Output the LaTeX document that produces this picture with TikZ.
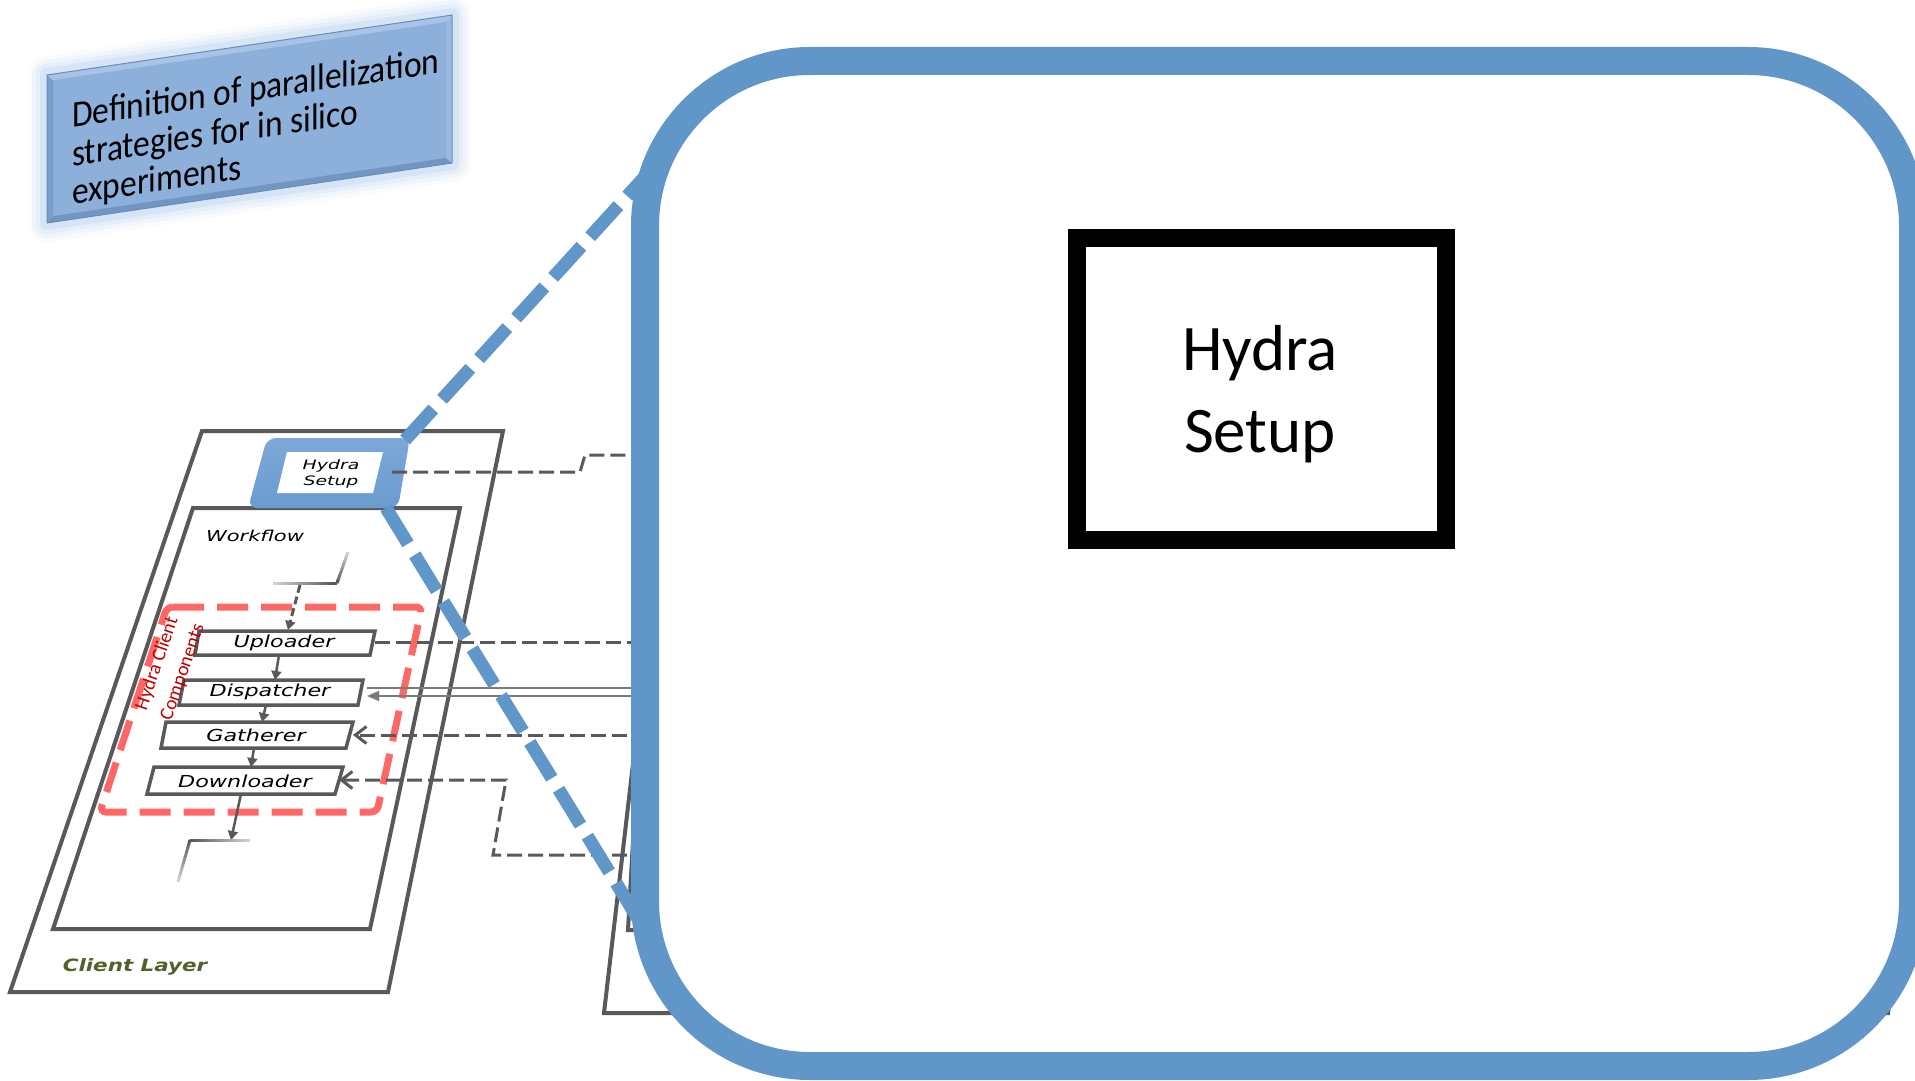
\documentclass[tikz,border=0pt]{standalone}
\usepackage{fontspec}
\usepackage{graphicx}
\setmainfont{Carlito}
\newfontfamily\labfont{DejaVu Sans}[BoldFont={DejaVu Sans Bold},ItalicFont={DejaVu Sans Oblique},BoldItalicFont={DejaVu Sans Bold Oblique}]
\usetikzlibrary{arrows.meta,calc}

\definecolor{frameblue}{HTML}{6196C9}
\definecolor{hstop}{HTML}{7CA8D8}
\definecolor{hsbottom}{HTML}{6B9BCF}
\definecolor{linegray}{HTML}{595959}
\definecolor{thingray}{HTML}{7A7A7A}
\definecolor{fadetint}{HTML}{EEF2FA}
\definecolor{compred}{HTML}{FF6666}
\definecolor{comptext}{HTML}{C00000}
\definecolor{layergreen}{HTML}{4F6228}
\definecolor{defblue}{HTML}{8DB0DA}
\definecolor{defdark}{HTML}{7395C3}
\definecolor{deflight}{HTML}{A6C3E8}
\definecolor{defedge}{HTML}{6A8DBB}
\definecolor{defglow}{HTML}{9CC3EC}

% horizontally widened label text
\newcommand{\stretchtext}[2]{\scalebox{#1}[1]{#2}}
% taller title text
\newcommand{\tallline}[1]{\scalebox{1}[1.12]{#1}}
% line that fades out from #1 (dark) towards #2 (light)
\newcommand{\fadeline}[2]{%
  \foreach \k [evaluate=\k as \ta using \k/14,
               evaluate=\k as \tb using (\k+1)/14,
               evaluate=\k as \pc using int(100-6*\k)] in {0,...,13}{%
    \draw[line width=3pt, color=linegray!\pc!fadetint]
      ($(#1)!\ta!(#2)$) -- ($(#1)!\tb!(#2)$);
  }%
  \draw[line width=3pt, linegray] ($(#1)!3pt!(#2)$) -- (#1);
}

\tikzset{
  layerline/.style={draw=linegray, line width=4pt},
  wfbox/.style={draw=linegray, line width=3.5pt, fill=white},
  wflabel/.style={font=\labfont\itshape\fontsize{16.5}{19}\selectfont, inner sep=0pt},
  flowarrow/.style={draw=linegray, line width=2.5pt, -{Triangle[length=9pt,width=10pt]}},
  linkdash/.style={draw=linegray, line width=3pt, dash pattern=on 15pt off 6pt},
  linkthin/.style={draw=thingray, line width=1.5pt},
  barbtip/.style={-{Straight Barb[length=11pt,width=17pt,line width=3pt]}},
  zoomdash/.style={draw=frameblue, line width=13pt, dash pattern=on 42pt off 13pt},
  compbox/.style={draw=compred, line width=7pt, dash pattern=on 31pt off 13pt, rounded corners=6pt},
}

\begin{document}
\begin{tikzpicture}[x=1pt,y=-1pt]
\useasboundingbox (0,0) rectangle (1915,1081);
\fill[white] (0,0) rectangle (1915,1081);

% ---------- bevelled title plate ----------
\begin{scope}[shift={(47,223)}, yslant=0.148]
  \foreach \w/\o in {38/0.06,30/0.09,22/0.13,14/0.2}
    \draw[defglow, line width=\w pt, opacity=\o, line join=round] (0,0) rectangle (405,-148);
  \fill[defblue] (0,0) rectangle (405,-148);
  \fill[defdark] (0,0) -- (405,0) -- (399,-6) -- (6,-6) -- cycle;
  \fill[defdark!70!defblue] (0,0) -- (6,-6) -- (6,-142) -- (0,-148) -- cycle;
  \fill[deflight] (0,-148) -- (405,-148) -- (399,-142) -- (6,-142) -- cycle;
  \fill[deflight!50!defblue] (405,0) -- (405,-148) -- (399,-142) -- (399,-6) -- cycle;
  \draw[defedge, line width=1pt] (0,0) rectangle (405,-148);
  \begin{scope}[every node/.style={anchor=base west, inner sep=0pt, transform shape,
      font=\fontsize{33.5}{36}\selectfont}]
    \node (defa) at (25,-92) {\tallline{Definition of parallelization}};
    \node (defb) at (25,-53) {\tallline{strategies for in silico}};
    \node (defc) at (25,-15) {\tallline{experiments}};
  \end{scope}
\end{scope}

% ---------- client layer ----------
\draw[layerline] (202,431) -- (503,431) -- (388,992) -- (10,992) -- cycle;
\draw[layerline] (193,508) -- (460,508) -- (370,929) -- (53,929) -- cycle;
\node[font=\labfont\itshape\fontsize{15}{18}\selectfont, inner sep=0pt] (wf) at (255,536)
  {\stretchtext{1.4}{Workflow}};
\node[font=\labfont\bfseries\itshape\fontsize{17}{20}\selectfont, text=layergreen, inner sep=0pt]
  (cl) at (135,967) {\stretchtext{1.26}{Client Layer}};

% client components group
\draw[compbox] (167,607) -- (422,607) -- (377,812) -- (100,812) -- cycle;

% workflow steps
\draw[wfbox] (199,631) -- (375,631) -- (370,655) -- (195,655) -- cycle;
\draw[wfbox] (184,680) -- (363,680) -- (358,705) -- (179,705) -- cycle;
\draw[wfbox] (166,722) -- (353,722) -- (346,748) -- (161,748) -- cycle;
\draw[wfbox] (154,767) -- (343,767) -- (335,794) -- (147,794) -- cycle;
\node[wflabel] (upl) at (284,643) {\stretchtext{1.35}{Uploader}};
\node[wflabel] (dis) at (270,692) {\stretchtext{1.35}{Dispatcher}};
\node[wflabel] (gat) at (256,735) {\stretchtext{1.35}{Gatherer}};
\node[wflabel] (dow) at (245,781) {\stretchtext{1.35}{Downloader}};

\node[rotate=71, align=center, font=\fontsize{19.5}{27}\selectfont, text=comptext, inner sep=0pt]
  (cctext) at (170,668) {Hydra Client\\Components};

% flow between steps
\coordinate (uplB) at (279,655);  \coordinate (disT) at (275,680);
\coordinate (disB) at (266,705);  \coordinate (gatT) at (262,722);
\coordinate (gatB) at (254,748);  \coordinate (dowT) at (251,767);
\coordinate (dowB) at (241,794);  \coordinate (wfoutE2) at (231,840);
\draw[flowarrow] (uplB) -- (disT);
\draw[flowarrow] (disB) -- (gatT);
\draw[flowarrow] (gatB) -- (dowT);
\draw[flowarrow] (dowB) -- (wfoutE2);

% incoming and outgoing workflow edges
\coordinate (wfinA) at (348,552);
\coordinate (wfinE) at (337,583);
\coordinate (wfinB) at (273,583);
\fadeline{wfinE}{wfinA}
\fadeline{wfinE}{wfinB}
\coordinate (wfdrop) at (300,585);
\coordinate (uplT) at (288,630);
\draw[line width=3pt, linegray, dash pattern=on 8pt off 4pt, -{Triangle[length=9pt,width=10pt]}]
  (wfdrop) -- (uplT);
\coordinate (wfoutC) at (250,840);
\coordinate (wfoutE) at (190,840);
\coordinate (wfoutD) at (178,882);
\fadeline{wfoutE}{wfoutC}
\fadeline{wfoutE}{wfoutD}

% hydra setup (small)
\shade[top color=hstop, bottom color=hsbottom, rounded corners=9pt]
  (267,438) -- (410,438) -- (398,508) -- (248,508) -- cycle;
\fill[white] (287,452) -- (383,452) -- (373,493) -- (277,493) -- cycle;
\node[align=center, font=\labfont\itshape\fontsize{13}{16}\selectfont, inner sep=0pt]
  (hs) at (331,474) {\stretchtext{1.45}{Hydra}\\\stretchtext{1.45}{Setup}};

% ---------- server side layers (mostly hidden) ----------
\draw[layerline] (673,420) -- (604,1013) -- (1888,1013) -- (1925,700);
\draw[layerline] (641,700) -- (628,930) -- (720,930);

% ---------- links to the server side ----------
\coordinate (hsR) at (392,472);
\coordinate (hsStepA) at (580,472);
\coordinate (hsStepB) at (585,455);
\coordinate (srvHs) at (690,455);
\draw[linkdash] (hsR) -- (hsStepA) -- (hsStepB) -- (srvHs);

\coordinate (uplR) at (375,642);
\coordinate (srvUpl) at (690,642);
\draw[linkdash] (uplR) -- (srvUpl);

\coordinate (disR1) at (367,688);
\coordinate (disR2) at (367,696);
\coordinate (srvDis1) at (690,688);
\coordinate (srvDis2) at (690,696);
\draw[linkthin] (disR1) -- (srvDis1);
\draw[linkthin, -{Triangle[length=12pt,width=10pt]}] (srvDis2) -- (disR2);

\coordinate (gatR) at (353,735);
\coordinate (srvGat) at (690,735);
\draw[linkdash, barbtip] (srvGat) -- (gatR);

\coordinate (dowR) at (339,780);
\coordinate (dowStepA) at (506,780);
\coordinate (dowStepB) at (493,855);
\coordinate (srvDow) at (690,855);
\draw[linkdash, barbtip] (srvDow) -- (dowStepB) -- (dowStepA) -- (dowR);

% ---------- magnification ----------
\coordinate (hsTR) at (405,440);
\coordinate (hsBR) at (386,508);
\coordinate (magTL) at (660,160);
\coordinate (magBL) at (640,922);
\draw[zoomdash] (hsTR) -- (magTL);
\draw[zoomdash] (hsBR) -- (magBL);

\node[draw=frameblue, line width=28pt, fill=white, rounded corners=165pt,
      minimum width=1268pt, minimum height=1005pt, inner sep=0pt] (zoomframe) at (1279,563.5) {};

\node[draw=black, line width=18pt, minimum width=369pt, minimum height=302pt, inner sep=0pt]
  (bighs) at (1261.5,389) {};
\node[align=center, font=\fontsize{65}{82}\selectfont, inner sep=0pt]
  (bighstext) at (1260,394) {Hydra\\Setup};
\end{tikzpicture}
\end{document}
